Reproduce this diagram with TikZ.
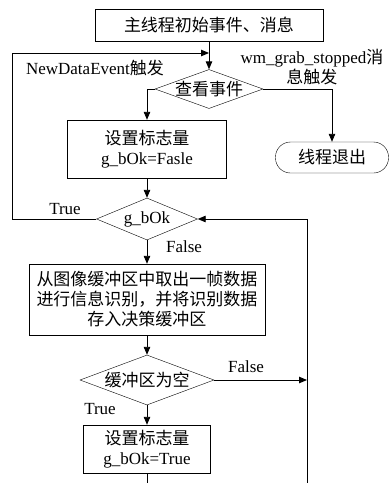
\documentclass[tikz,border=0pt]{standalone}
\usepackage{fontspec}
\setmainfont{Liberation Serif}
\newfontfamily\cjk{Noto Sans CJK SC}
\usetikzlibrary{shapes.geometric,arrows.meta}
\begin{document}
\begin{tikzpicture}[x=1pt,y=-1pt,
  every node/.style={font=\fontsize{17}{20}\selectfont},
  box/.style={draw,rectangle,inner sep=0pt,align=center},
  term/.style={draw,rectangle,rounded corners=15pt,inner sep=0pt},
  dia/.style={draw,diamond,inner sep=0pt},
  lbl/.style={inner sep=0pt,align=center},
  line/.style={line width=0.9pt},
  arr/.style={line width=0.9pt,-{Triangle[length=8pt,width=6.5pt]}}]
\useasboundingbox (0,0) rectangle (389,483);
\node[box,minimum width=228pt,minimum height=32pt] (top) at (209,25) {\cjk 主线程初始事件、消息};
\node[dia,minimum width=108pt,minimum height=39pt] (d1) at (209,89) {\makebox[0pt]{\cjk 查看事件}};
\node[box,minimum width=159pt,minimum height=58pt] (b1) at (147,149) {{\cjk 设置标志量}\\g\_bOk=Fasle};
\node[term,minimum width=113pt,minimum height=31pt] (term) at (332,157.5) {\cjk 线程退出};
\node[dia,minimum width=101pt,minimum height=42pt] (d2) at (147,219) {\makebox[0pt]{g\_bOk}};
\node[box,minimum width=236pt,minimum height=71pt] (big) at (147,299.5) {{\cjk 从图像缓冲区中取出一帧数据}\\{\cjk 进行信息识别，并将识别数据}\\{\cjk 存入决策缓冲区}};
\node[dia,minimum width=134pt,minimum height=50pt] (d3) at (147,380) {\makebox[0pt]{\cjk 缓冲区为空}};
\node[box,minimum width=127pt,minimum height=48pt] (b4) at (147,449) {{\cjk 设置标志量}\\g\_bOk=True};
% labels
\node[lbl] (l1) at (95,68) {NewDataEvent{\cjk 触发}};
\node[lbl] (l2) at (312,67) {wm\_grab\_stopped{\cjk 消}\\{\cjk 息触发}};
\node[lbl] (l3) at (65,209) {True};
\node[lbl] (l4) at (184,247) {False};
\node[lbl] (l5) at (246,367) {False};
\node[lbl] (l6) at (100,409) {True};
% coordinates
\coordinate (join) at (209,53);
\coordinate (loopx) at (12,53);
\coordinate (rx) at (307,219);
\coordinate (rb) at (307,483);
\coordinate (bb) at (147,483);
% connectors
\draw[arr] (top.south) -- (d1.north);
\draw[arr] (d1.west) -| (b1.north);
\draw[arr] (d1.east) -| (term.north);
\draw[arr] (b1.south) -- (d2.north);
\draw[arr] (d2.west) -| (loopx) -- (join);
\draw[arr] (d2.south) -- (big.north);
\draw[arr] (big.south) -- (d3.north);
\draw[arr] (d3.east) -- (rx |- d3.east);
\draw[arr] (d3.south) -- (b4.north);
\draw[line] (b4.south) -- (bb);
\draw[arr] (rb) |- (d2.east);
\end{tikzpicture}
\end{document}
